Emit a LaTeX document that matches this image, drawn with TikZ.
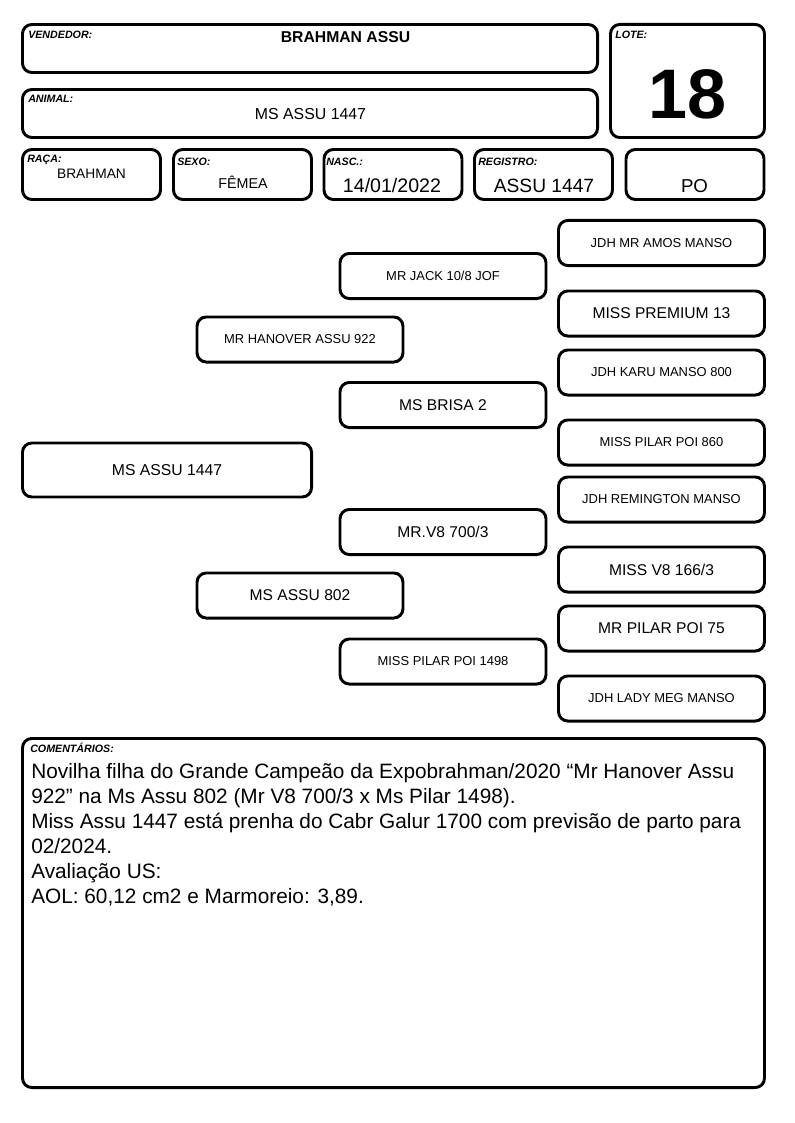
\documentclass[tikz,border=0pt]{standalone}
\usepackage{fontspec}
\setmainfont{Liberation Sans}
\usetikzlibrary{positioning}

\begin{document}
\begin{tikzpicture}[x=0.75pt, y=-0.75pt,
        card/.style={draw, line width=2.2pt, rounded corners=7pt, inner sep=0pt},
        field/.style={card, minimum width=103.5pt, minimum height=37.5pt},
        pedsmall/.style={card, minimum width=154.5pt, minimum height=33.8pt, font=\fontsize{9.7}{11}\selectfont},
        pedbig/.style={card, minimum width=154.5pt, minimum height=33.8pt, font=\fontsize{11.7}{13}\selectfont},
        lbl/.style={anchor=base west, inner sep=0pt, font=\fontsize{8}{9}\selectfont\bfseries\itshape},
        val/.style={anchor=base, inner sep=0pt}]
        \useasboundingbox (0,0) rectangle (794,1123);
        % header
        \node[card, minimum width=431.3pt, minimum height=36pt] (vend) at (310,48.5) {};
        \node[card, minimum width=431.3pt, minimum height=36pt] (anim) at (310,113.5) {};
        \node[card, minimum width=115.5pt, minimum height=84.8pt] (lote) at (687.5,81) {};
        \node[field] (raca) at (91.5,174.5) {};
        \node[field] (sexo) at (242.5,174.5) {};
        \node[field] (nasc) at (393,174.5) {};
        \node[field] (reg) at (543.5,174.5) {};
        \node[field] (po) at (695,174.5) {};
        \node[lbl] (vendlbl) at (28,38.3) {VENDEDOR:};
        \node[lbl] (animlbl) at (28,102.3) {ANIMAL:};
        \node[lbl] (lotelbl) at (615,39) {LOTE:};
        \node[lbl] (racalbl) at (27,162.3) {RAÇA:};
        \node[lbl] (sexolbl) at (177,165.7) {SEXO:};
        \node[lbl] (nasclbl) at (326,165.7) {NASC.:};
        \node[lbl] (reglbl) at (478,166) {REGISTRO:};
        \node[val, font=\fontsize{11.8}{13}\selectfont\bfseries] (vendval) at (345.5,42.7) {BRAHMAN ASSU};
        \node[val, font=\fontsize{11.9}{13}\selectfont] (animval) at (310.5,119.3) {MS ASSU 1447};
        \node[val, font=\fontsize{52.6}{56}\selectfont\bfseries] (loteval) at (687,119) {18};
        \node[val, font=\fontsize{10.3}{12}\selectfont] (racaval) at (91.5,178.3) {BRAHMAN};
        \node[val, font=\fontsize{10.7}{12}\selectfont] (sexoval) at (243,189) {FÊMEA};
        \node[val, font=\fontsize{14.7}{16}\selectfont] (nascval) at (392,192.7) {14/01/2022};
        \node[val, font=\fontsize{14.4}{16}\selectfont] (regval) at (544,192.7) {ASSU 1447};
        \node[val, font=\fontsize{14}{16}\selectfont] (poval) at (694.5,192.3) {PO};
        % pedigree
        \node[card, minimum width=216.8pt, minimum height=40.5pt, font=\fontsize{11.8}{13}\selectfont] (self) at (167,470) {MS ASSU 1447};
        \node[pedsmall] (sire) at (300,339.5) {MR HANOVER ASSU 922};
        \node[pedbig] (dam) at (300,595.5) {MS ASSU 802};
        \node[pedsmall] (ss) at (443,276) {MR JACK 10/8 JOF};
        \node[pedbig] (sd) at (443,405) {MS BRISA 2};
        \node[pedbig] (ds) at (443,532) {MR.V8 700/3};
        \node[pedsmall] (dd) at (443,661.5) {MISS PILAR POI 1498};
        \node[pedsmall] (sss) at (661.5,243) {JDH MR AMOS MANSO};
        \node[pedbig] (ssd) at (661.5,313.5) {MISS PREMIUM 13};
        \node[pedsmall] (sds) at (661.5,372.5) {JDH KARU MANSO 800};
        \node[pedsmall] (sdd) at (661.5,442.5) {MISS PILAR POI 860};
        \node[pedsmall] (dss) at (661.5,499.5) {JDH REMINGTON MANSO};
        \node[pedbig] (dsd) at (661.5,569.5) {MISS V8 166/3};
        \node[pedbig] (dds) at (661.5,628.5) {MR PILAR POI 75};
        \node[pedsmall] (ddd) at (661.5,698.5) {JDH LADY MEG MANSO};
        % comments
        \node[card, minimum width=556.5pt, minimum height=261.8pt] (com) at (393.5,913) {};
        \node[lbl] (comlbl) at (30,752.7) {COMENTÁRIOS:};
        \node[anchor=north west, inner sep=0pt, align=left, font=\fontsize{15.6}{18.7}\selectfont] (comtxt) at (31,763)
        {Novilha filha do Grande Campeão da Expobrahman/2020 “Mr Hanover Assu\\
        922” na Ms Assu 802 (Mr V8 700/3 x Ms Pilar 1498).\\
        Miss Assu 1447 está prenha do Cabr Galur 1700 com previsão de parto para\\
        02/2024.\\
        Avaliação US:\\
        AOL: 60,12 cm2 e Marmoreio: 3,89.};
\end{tikzpicture}
\end{document}
